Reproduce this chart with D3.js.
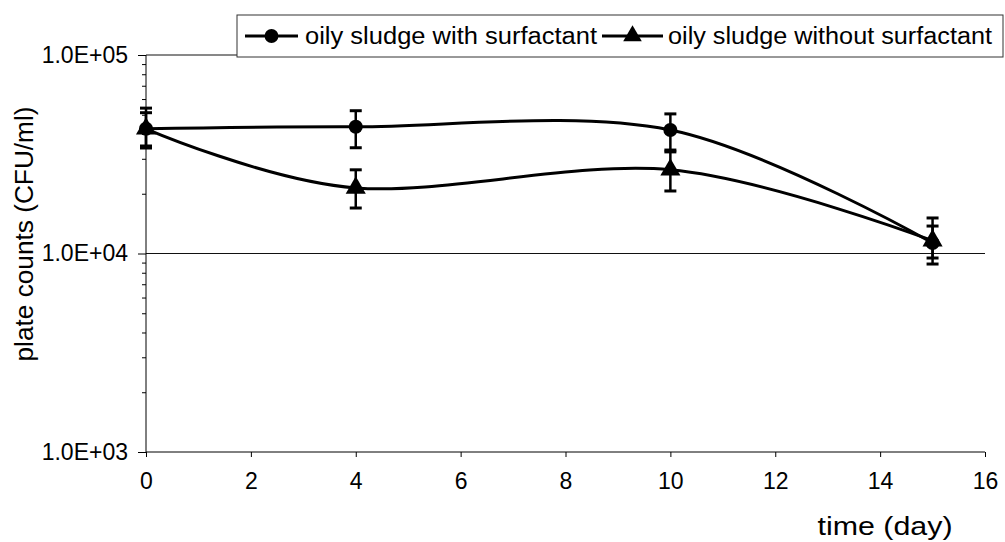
<!DOCTYPE html>
<html>
<head>
<meta charset="utf-8">
<script src="https://cdn.jsdelivr.net/npm/d3@7"></script>
<style>
  html, body { margin: 0; padding: 0; background: #fff; }
  svg { display: block; font-family: "Liberation Sans", Arial, sans-serif; }
</style>
</head>
<body>
<svg id="chart" width="1005" height="542"></svg>
<script>
// ---- data ----
const days = [0, 4, 10, 15];
const withSurf = [42500, 43500, 41900, 11300];
const withSurfUpper = [54000, 52400, 50500, 15100];
const withSurfLower = [34000, 34100, 33200, 8850];
const withoutSurf = [42500, 21400, 26400, 11600];
const withoutSurfUpper = [51200, 26400, 32500, 13750];
const withoutSurfLower = [34800, 16950, 20650, 9490];
const xTicks = [0, 2, 4, 6, 8, 10, 12, 14, 16];
const yTicks = [1e3, 1e4, 1e5];
const yTickLabels = ["1.0E+03", "1.0E+04", "1.0E+05"];
const seriesNames = ["oily sludge with surfactant", "oily sludge without surfactant"];
const xTitle = "time (day)";
const yTitle = "plate counts (CFU/ml)";

// ---- layout ----
const svg = d3.select("#chart");
const x = d3.scaleLinear().domain([0, 16]).range([146, 985]);
const y = d3.scaleLog().domain([1e3, 1e5]).range([452, 55]);
const ink = "#000";
const ff = "'Liberation Sans', Arial, sans-serif";

// gridlines
svg.append("g").selectAll("line").data(yTicks.slice(1)).join("line")
  .attr("x1", x(0)).attr("x2", x(16))
  .attr("y1", d => y(d)).attr("y2", d => y(d))
  .attr("stroke", "#111").attr("stroke-width", 1);

// minor y ticks
const minor = [];
[1e3, 1e4].forEach(b => { for (let k = 2; k <= 9; k++) minor.push(k * b); });
const yMinor = svg.append("g").attr("transform", `translate(${x(0)},0)`)
  .call(d3.axisLeft(y).tickValues(minor).tickSize(4).tickFormat(""));
yMinor.select(".domain").remove();
yMinor.selectAll("line").attr("stroke", ink).attr("stroke-width", 1);

// y axis
const yAxis = svg.append("g").attr("transform", `translate(${x(0)},0)`)
  .call(d3.axisLeft(y).tickValues(yTicks).tickSize(8).tickPadding(10)
    .tickFormat((d, i) => yTickLabels[i]));
yAxis.select(".domain").attr("stroke", ink).attr("stroke-width", 1).attr("d", `M0,${y(1e3)}V${y(1e5)}`);
yAxis.selectAll("line").attr("stroke", ink);
yAxis.selectAll("text").attr("font-size", 23).attr("fill", ink).attr("font-family", ff);

// x axis
const xAxis = svg.append("g").attr("transform", `translate(0,${y(1e3)})`)
  .call(d3.axisBottom(x).tickValues(xTicks).tickSize(5).tickPadding(16).tickFormat(d3.format("d")));
xAxis.select(".domain").attr("stroke", ink).attr("stroke-width", 1).attr("d", `M${x(0)},0H${x(16)}`);
xAxis.selectAll("line").attr("stroke", ink);
xAxis.selectAll("text").attr("font-size", 23).attr("fill", ink).attr("font-family", ff);

// axis titles
svg.append("text").text(xTitle)
  .attr("x", 885).attr("y", 535).attr("text-anchor", "middle")
  .attr("font-size", 25).attr("fill", ink)
  .attr("textLength", 135).attr("lengthAdjust", "spacingAndGlyphs");
svg.append("text").text(yTitle)
  .attr("transform", "translate(33,234) rotate(-90)")
  .attr("text-anchor", "middle").attr("font-size", 25).attr("fill", ink)
  .attr("textLength", 255).attr("lengthAdjust", "spacingAndGlyphs");

// series
const curve = d3.curveCardinal.tension(0);
const series = [
  { v: withSurf, up: withSurfUpper, lo: withSurfLower, sym: d3.symbolCircle, size: 155 },
  { v: withoutSurf, up: withoutSurfUpper, lo: withoutSurfLower, sym: d3.symbolTriangle, size: 175 }
];
const line = d3.line().x(d => x(d[0])).y(d => y(d[1])).curve(curve);

series.forEach(s => {
  const g = svg.append("g");
  const pts = days.map((d, i) => [d, s.v[i]]);
  g.append("path").attr("d", line(pts)).attr("fill", "none")
    .attr("stroke", ink).attr("stroke-width", 3);
  // error bars
  days.forEach((d, i) => {
    g.append("line").attr("x1", x(d)).attr("x2", x(d))
      .attr("y1", y(s.up[i])).attr("y2", y(s.lo[i]))
      .attr("stroke", ink).attr("stroke-width", 2.5);
    [s.up[i], s.lo[i]].forEach(v => {
      g.append("line").attr("x1", x(d) - 6).attr("x2", x(d) + 6)
        .attr("y1", y(v)).attr("y2", y(v))
        .attr("stroke", ink).attr("stroke-width", 3);
    });
  });
  g.selectAll(".m").data(pts).join("path")
    .attr("transform", d => `translate(${x(d[0])},${y(d[1])})`)
    .attr("d", d3.symbol().type(s.sym).size(s.size)).attr("fill", ink);
});

// legend
const lg = svg.append("g");
lg.append("rect").attr("x", 237).attr("y", 15).attr("width", 766).attr("height", 42)
  .attr("fill", "#fff").attr("stroke", "#333").attr("stroke-width", 1);
const legendItems = [
  { sym: d3.symbolCircle, size: 150, x0: 245, x1: 298, tx: 305, tl: 292 },
  { sym: d3.symbolTriangle, size: 150, x0: 602, x1: 663, tx: 668, tl: 324 }
];
legendItems.forEach((it, i) => {
  lg.append("line").attr("x1", it.x0).attr("x2", it.x1).attr("y1", 36).attr("y2", 36)
    .attr("stroke", ink).attr("stroke-width", 3);
  lg.append("path").attr("transform", `translate(${(it.x0 + it.x1) / 2},36)`)
    .attr("d", d3.symbol().type(it.sym).size(it.size)).attr("fill", ink);
  lg.append("text").text(seriesNames[i]).attr("x", it.tx).attr("y", 44)
    .attr("font-size", 23).attr("fill", ink)
    .attr("textLength", it.tl).attr("lengthAdjust", "spacingAndGlyphs");
});
</script>
</body>
</html>
